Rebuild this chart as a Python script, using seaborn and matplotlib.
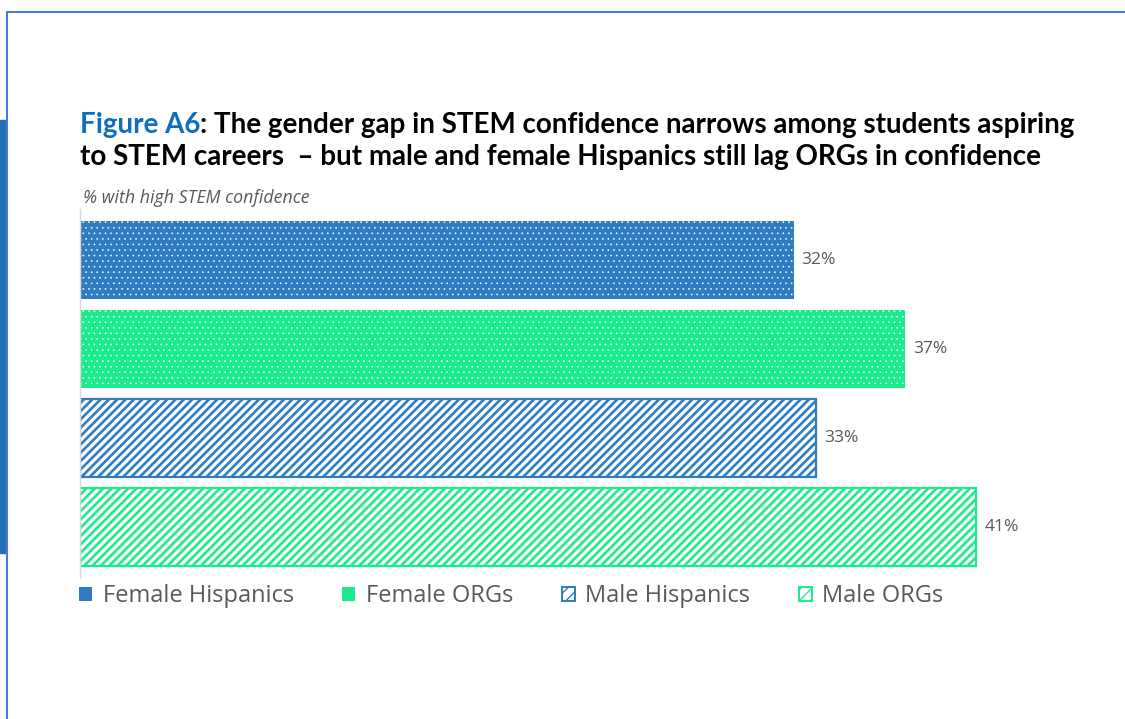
import matplotlib
matplotlib.use("Agg")
import matplotlib.pyplot as plt
import matplotlib.patches as mpatches
import matplotlib.lines as mlines
import seaborn as sns

# chart data
groups = ["Female Hispanics", "Female ORGs", "Male Hispanics", "Male ORGs"]
values = [32.0, 37.0, 33.0, 40.2]
value_labels = ["32%", "37%", "33%", "41%"]
colors = ["#2E7DC2", "#1AEB8B", "#2E7DC2", "#1AEB8B"]
patterns = ["dots", "dots", "stripes", "stripes"]

sns.set_theme(style="white")
plt.rcParams["font.family"] = ["Open Sans", "DejaVu Sans"]

fig = plt.figure(figsize=(11.25, 7.19), dpi=100)
ax = fig.add_axes([80 / 1125, 1 - 578 / 719, 1003.5 / 1125, 369 / 719])

sns.barplot(x=values, y=groups, hue=groups, palette=colors, orient="h",
            width=0.87, legend=False, ax=ax, saturation=1)

for bar, col, pat in zip(ax.patches, colors, patterns):
    if pat == "dots":
        bar.set_facecolor(col)
        bar.set_edgecolor("white")
        bar.set_linewidth(0)
        bar.set_hatch("...")
        bar.set_hatch_linewidth(0.4)
    else:
        bar.set_facecolor("white")
        bar.set_edgecolor(col)
        bar.set_linewidth(1.6)
        bar.set_hatch("////")
        bar.set_hatch_linewidth(1.9)

for i, (v, lab) in enumerate(zip(values, value_labels)):
    ax.text(v + 0.35, i, lab, va="center", ha="left", fontsize=12.5, color="#595959")

ax.set_xlim(0, 45)
ax.set_ylim(3.573, -0.573)
ax.set_xticks([])
ax.set_yticks([])
ax.set_xlabel("")
ax.set_ylabel("")
for s in ["top", "right", "bottom"]:
    ax.spines[s].set_visible(False)
ax.spines["left"].set_color("#D9D9D9")
ax.spines["left"].set_linewidth(1)

# title
title_font = ["Lato", "DejaVu Sans"]
head = fig.text(80 / 1125, 1 - 125 / 719, "Figure A6", color="#0E6FC0", fontsize=20,
                fontweight="bold", va="center", ha="left", family=title_font)
fig.canvas.draw()
r = head.get_window_extent()
fig.text(r.x1 / 1125, 1 - 125 / 719,
         ": The gender gap in STEM confidence narrows among students aspiring",
         color="black", fontsize=20, fontweight="bold", va="center", ha="left",
         family=title_font)
fig.text(80 / 1125, 1 - 157 / 719,
         "to STEM careers  \u2013 but male and female Hispanics still lag ORGs in confidence",
         color="black", fontsize=20, fontweight="bold", va="center", ha="left",
         family=title_font)
fig.text(83 / 1125, 1 - 198 / 719, "% with high STEM confidence", color="#595959",
         fontsize=12.8, style="italic", va="center", ha="left")

# legend
handles = []
for g, col, pat in zip(groups, colors, patterns):
    if pat == "dots":
        h = mpatches.Patch(facecolor=col, edgecolor=col, linewidth=0)
    else:
        h = mpatches.Patch(facecolor="white", edgecolor=col, linewidth=1.4, hatch="///")
    handles.append(h)
fig.legend(handles=handles, labels=groups, loc="center left", ncol=4,
           bbox_to_anchor=(79 / 1125, 1 - 596 / 719), frameon=False,
           fontsize=17, handlelength=0.55, handleheight=0.55, handletextpad=0.45,
           columnspacing=2.05, labelcolor="#595959", borderaxespad=0, borderpad=0)

# screenshot frame
fig.add_artist(mlines.Line2D([7 / 1125, 1], [1 - 12 / 719, 1 - 12 / 719],
                             color="#4A7BD0", linewidth=1.5, transform=fig.transFigure))
fig.add_artist(mlines.Line2D([7 / 1125, 7 / 1125], [0, 1 - 12 / 719],
                             color="#4A7BD0", linewidth=1.5, transform=fig.transFigure))
fig.add_artist(mpatches.Rectangle((0, 1 - 553 / 719), 6 / 1125, 433 / 719,
                                  color="#2470B8", transform=fig.transFigure))

fig.savefig("out.png", dpi=100)
